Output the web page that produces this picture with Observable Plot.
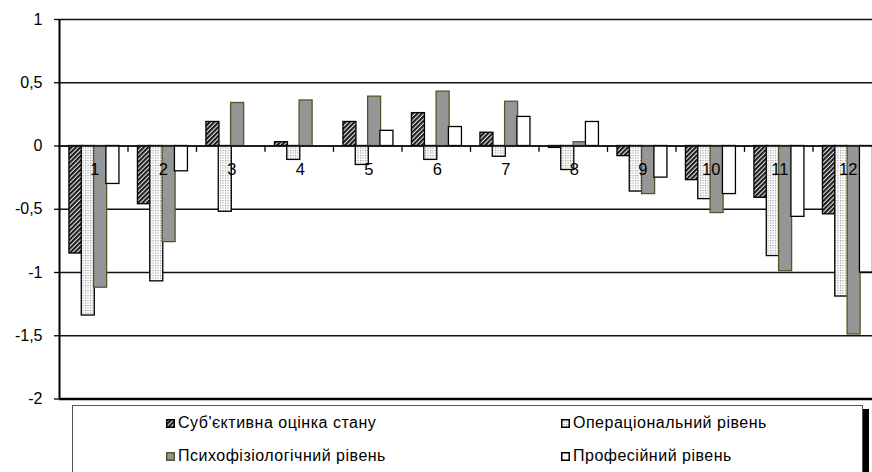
<!DOCTYPE html>
<html>
<head>
<meta charset="utf-8">
<script src="https://cdn.jsdelivr.net/npm/d3@7"></script>
<script src="https://cdn.jsdelivr.net/npm/@observablehq/plot@0.6"></script>
<style>
  html, body { margin: 0; padding: 0; background: #fff; overflow: hidden; }
  #wrap { position: relative; width: 872px; height: 472px; overflow: hidden; background: #fff; }
  #chart { width: 882px; }
  #legend { position: absolute; left: 72px; top: 405px; width: 791px; height: 80px;
    border: 1px solid #555; box-shadow: 6px 4px 0 0 #000; background: #fff; box-sizing: border-box; }
  .item { position: absolute; font-family: "Liberation Sans", Arial, sans-serif; font-size: 16px;
    letter-spacing: 0.5px; color: #000; white-space: nowrap; display: flex; align-items: center; height: 18px; }
  .item svg { margin-right: 3px; }
</style>
</head>
<body>
<svg width="0" height="0" style="position:absolute">
  <defs>
    <pattern id="hatch" width="3.2" height="3.2" patternUnits="userSpaceOnUse" patternTransform="rotate(45)">
      <rect width="3.2" height="3.2" fill="#e8e8e8"/>
      <rect width="2.1" height="3.2" fill="#1a1a1a"/>
    </pattern>
    <pattern id="dots" width="2.5" height="2.5" patternUnits="userSpaceOnUse">
      <rect width="2.5" height="2.5" fill="#fff"/>
      <rect x="0" y="0" width="1.1" height="1.1" fill="#8f8f8f"/>
    </pattern>
  </defs>
</svg>
<div id="wrap">
  <div id="chart"></div>
  <div id="legend"></div>
</div>
<script>
const groups = [1, 2, 3, 4, 5, 6, 7, 8, 9, 10, 11, 12];
const seriesNames = [
  "Суб'єктивна оцінка стану",
  "Операціональний рівень",
  "Психофізіологічний рівень",
  "Професійний рівень"
];
const subjective   = [-0.85, -0.46, 0.19, 0.03, 0.19, 0.26, 0.105, -0.015, -0.08, -0.27, -0.41, -0.54];
const operational  = [-1.34, -1.07, -0.52, -0.11, -0.15, -0.11, -0.085, -0.19, -0.36, -0.42, -0.87, -1.19];
const psychophys   = [-1.12, -0.76, 0.34, 0.36, 0.39, 0.43, 0.35, 0.03, -0.38, -0.53, -0.99, -1.49];
const professional = [-0.30, -0.20, 0, 0, 0.12, 0.15, 0.23, 0.19, -0.25, -0.38, -0.56, -1.00];
const yTicks = [-2, -1.5, -1, -0.5, 0, 0.5, 1];

const seriesValues = [subjective, operational, psychophys, professional];
const styles = [
  {fill: "url(#hatch)", stroke: "#000"},
  {fill: "url(#dots)", stroke: "#000"},
  {fill: "#969696", stroke: "#55552a"},
  {fill: "#fff", stroke: "#000"}
];

// long table built from the arrays
const table = [];
seriesValues.forEach((vals, i) => vals.forEach((v, k) => table.push({g: groups[k], i, v})));

// layout inside a category (in category units)
const start = 0.145, step = 0.18, bw = 0.19;
const x1 = d => d.g - 0.5 + start + d.i * step;
const x2 = d => x1(d) + bw;

const fmt = d => String(d).replace(".", ",");

const barMarks = styles.map((s, i) =>
  Plot.rectY(table.filter(d => d.i === i), {
    x1, x2, y1: 0, y2: "v",
    fill: s.fill, stroke: s.stroke, strokeWidth: 1.3
  })
);

const plot = Plot.plot({
  width: 882,
  height: 400,
  marginLeft: 59,
  marginRight: 1,
  marginTop: 19,
  marginBottom: 1.5,
  style: {fontFamily: "'Liberation Sans', Arial, sans-serif", fontSize: "16px", background: "#fff", overflow: "visible", maxWidth: "none"},
  x: {domain: [groups[0] - 0.5, groups[groups.length - 1] + 0.5], axis: null},
  y: {domain: [yTicks[0], yTicks[yTicks.length - 1]], axis: null},
  marks: [
    Plot.ruleY(yTicks, {stroke: "#111", strokeWidth: 1.3}),
    ...barMarks,
    Plot.ruleY([0], {stroke: "#111", strokeWidth: 1.3}),
    Plot.ruleY([yTicks[0]], {stroke: "#000", strokeWidth: 2.5}),
    Plot.ruleX(groups.slice(0, -1), {x: d => d + 0.5, y1: 0, y2: -0.05, stroke: "#000", strokeWidth: 1.3}),
    Plot.ruleX([groups[0] - 0.5], {stroke: "#000", strokeWidth: 2}),
    Plot.axisY({ticks: yTicks, tickFormat: fmt, tickSize: 5, tickPadding: 12, fontSize: 16, label: null, stroke: "#000", strokeWidth: 1.3, fill: "#000"}),
    Plot.text(groups, {x: d => d, y: 0, text: d => String(d), dy: 24, dx: 1, fontSize: 16.5, fill: "#000"})
  ]
});
document.getElementById("chart").appendChild(plot);

// legend
const legend = document.getElementById("legend");
const pos = [[93, 8], [488, 8], [93, 41], [488, 41]];
seriesNames.forEach((name, i) => {
  const el = document.createElement("div");
  el.className = "item";
  el.style.left = pos[i][0] + "px";
  el.style.top = pos[i][1] + "px";
  el.innerHTML = `<svg width="9" height="9"><rect x="0.75" y="0.75" width="7.5" height="7.5" fill="${styles[i].fill}" stroke="${styles[i].stroke}" stroke-width="1.5"/></svg><span>${name}</span>`;
  legend.appendChild(el);
});
</script>
</body>
</html>
